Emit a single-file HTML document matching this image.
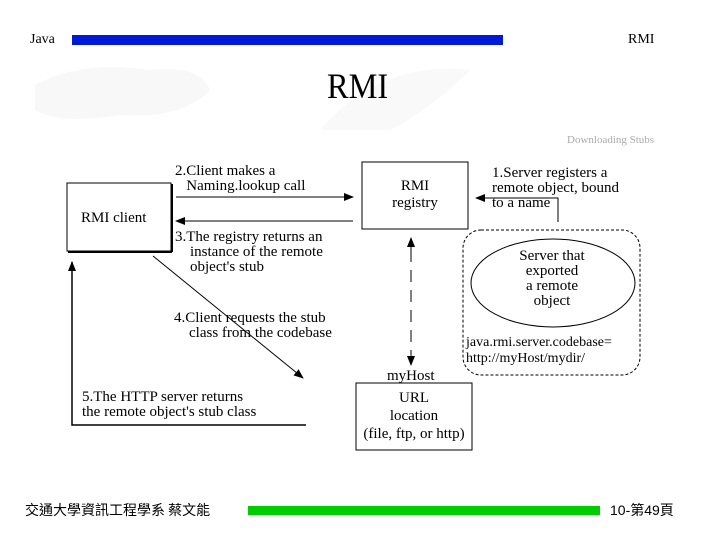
<!DOCTYPE html>
<html><head><meta charset="utf-8"><style>
body{margin:0;width:720px;height:540px;background:#fff;overflow:hidden;position:relative;font-family:"Liberation Serif","Noto Serif CJK SC",serif}
.t{position:absolute;white-space:nowrap;line-height:1}
</style></head><body>
<svg width="720" height="540" style="position:absolute;left:0;top:0" xmlns="http://www.w3.org/2000/svg">
<defs><marker id="a" markerWidth="10" markerHeight="8" refX="9" refY="4" orient="auto" markerUnits="userSpaceOnUse"><path d="M0,0L10,4L0,8z" fill="#000"/></marker></defs>
<path d="M35,85 Q80,60 150,70 Q200,65 210,90 Q180,120 120,115 Q60,125 35,110z" fill="#f8f8f8"/>
<path d="M320,130 Q380,60 470,70 Q430,110 390,130z" fill="#f9f9f9"/>
<rect x="72" y="35" width="431" height="10" fill="#0018d8"/>
<rect x="248" y="506" width="352" height="9" fill="#00cc00"/>
<rect x="67" y="183" width="104" height="68" fill="#fff" stroke="#000"/>
<line x1="68" y1="252" x2="172" y2="252" stroke="#000" stroke-width="2"/>
<line x1="172" y1="184" x2="172" y2="252" stroke="#000" stroke-width="2"/>
<rect x="362" y="162" width="106" height="67" fill="none" stroke="#000"/>
<rect x="356" y="383" width="116" height="67" fill="none" stroke="#000"/>
<rect x="463" y="230" width="177" height="145" rx="18" fill="none" stroke="#000" stroke-dasharray="3,2"/>
<ellipse cx="553" cy="283" rx="82" ry="44" fill="none" stroke="#000"/>
<line x1="176" y1="197" x2="353" y2="197" stroke="#000" marker-end="url(#a)"/>
<line x1="353" y1="221" x2="176" y2="221" stroke="#000" marker-end="url(#a)"/>
<line x1="153" y1="256" x2="303" y2="378" stroke="#000" marker-end="url(#a)"/>
<polyline points="306,425 72,425 72,262" fill="none" stroke="#000" stroke-width="1.5" marker-end="url(#a)"/>
<line x1="411" y1="250" x2="411" y2="238" stroke="#000" marker-end="url(#a)"/>
<line x1="411" y1="250" x2="411" y2="365" stroke="#000" stroke-dasharray="12,8" marker-end="url(#a)"/>
<polyline points="558,222 558,198 476,198" fill="none" stroke="#000" marker-end="url(#a)"/>
</svg>
<div class="t" style="left:30px;top:33px;font-size:14px">Java</div>
<div class="t" style="left:628px;top:33px;font-size:14px">RMI</div>
<div class="t" style="left:327px;top:68px;font-size:36px;transform:scaleX(0.9);transform-origin:left">RMI</div>
<div class="t" style="left:567px;top:135px;font-size:11px;color:#aaa">Downloading Stubs</div>
<div class="t" style="left:175px;top:164px;font-size:15px;line-height:15px">2.Client makes a<br>&nbsp;&nbsp;&nbsp;Naming.lookup call</div>
<div class="t" style="left:81px;top:211px;font-size:15px">RMI client</div>
<div class="t" style="left:175px;top:230px;font-size:15px;line-height:15px">3.The registry returns an<br>&nbsp;&nbsp;&nbsp;&nbsp;instance of the remote<br>&nbsp;&nbsp;&nbsp;&nbsp;object's stub</div>
<div class="t" style="left:365px;top:178px;width:100px;font-size:15px;line-height:17px;text-align:center">RMI<br>registry</div>
<div class="t" style="left:492px;top:166px;font-size:15px;line-height:15px">1.Server registers a<br>remote object, bound<br>to a name</div>
<div class="t" style="left:508px;top:249px;font-size:15px;line-height:15px;text-align:center;width:88px">Server that<br>exported<br>a remote<br>object</div>
<div class="t" style="left:174px;top:311px;font-size:15px;line-height:15px">4.Client requests the stub<br>&nbsp;&nbsp;&nbsp;&nbsp;class from the codebase</div>
<div class="t" style="left:466px;top:335px;font-size:14px;line-height:16px">java.rmi.server.codebase=<br>http://myHost/mydir/</div>
<div class="t" style="left:387px;top:369px;font-size:15px">myHost</div>
<div class="t" style="left:356px;top:389px;width:116px;text-align:center;font-size:15px;line-height:18px">URL<br>location<br>(file, ftp, or http)</div>
<div class="t" style="left:82px;top:390px;font-size:15px;line-height:15px">5.The HTTP server returns<br>the remote object's stub class</div>
<div class="t" style="left:25px;top:503px;font-size:14px;font-family:'Noto Sans CJK TC',sans-serif">交通大學資訊工程學系 蔡文能</div>
<div class="t" style="left:610px;top:503px;font-size:14px;font-family:'Liberation Sans','Noto Sans CJK TC',sans-serif">10-第49頁</div>
</body></html>
